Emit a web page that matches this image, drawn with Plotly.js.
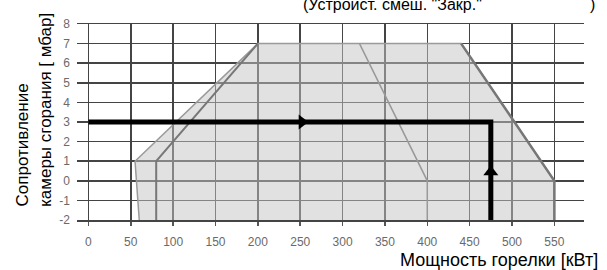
<!DOCTYPE html>
<html>
<head>
<meta charset="utf-8">
<script src="https://cdn.plot.ly/plotly-3.0.1.min.js"></script>
<style>html,body{margin:0;padding:0;background:#fff}#chart{width:607px;height:270px}</style>
</head>
<body>
<div id="chart"></div>
<script>
// Working field (outer boundary)
const outerX = [60, 55, 200, 440, 550, 550];
const outerY = [-2, 1, 7, 7, 0, -2];
// Inner boundary lines
const innerLeftX = [80, 80, 200];
const innerLeftY = [-2, 1, 7];
const innerRightX = [320, 400, 400];
const innerRightY = [7, 0, -2];
// Right outer edge (drawn darker)
const outerRightX = [440, 550, 550];
const outerRightY = [7, 0, -2];
// Operating point path
const opX = [0, 475, 475];
const opY = [3, 3, -2];
// Arrow heads along the path
const arrowRightX = [252];
const arrowRightY = [3];
const arrowUpX = [475];
const arrowUpY = [0.45];
// Ticks
const xTicks = [0, 50, 100, 150, 200, 250, 300, 350, 400, 450, 500, 550];
const yTicks = [-2, -1, 0, 1, 2, 3, 4, 5, 6, 7, 8];

const traces = [
  {x: outerX, y: outerY, type: 'scatter', mode: 'lines', fill: 'toself',
   fillcolor: 'rgba(195,195,195,0.5)', line: {color: '#9a9a9a', width: 1.5}, hoverinfo: 'skip'},
  {x: outerRightX, y: outerRightY, type: 'scatter', mode: 'lines',
   line: {color: '#777', width: 2.5}, hoverinfo: 'skip'},
  {x: innerLeftX, y: innerLeftY, type: 'scatter', mode: 'lines',
   line: {color: '#777', width: 2}, hoverinfo: 'skip'},
  {x: innerRightX, y: innerRightY, type: 'scatter', mode: 'lines',
   line: {color: '#999', width: 1.5}, hoverinfo: 'skip'},
  {x: opX, y: opY, type: 'scatter', mode: 'lines',
   line: {color: '#000', width: 5}, hoverinfo: 'skip'},
  {x: arrowRightX, y: arrowRightY, type: 'scatter', mode: 'markers',
   marker: {symbol: 'triangle-right', size: 13, color: '#000'}, hoverinfo: 'skip'},
  {x: arrowUpX, y: arrowUpY, type: 'scatter', mode: 'markers',
   marker: {symbol: 'triangle-up', size: 13, color: '#000'}, hoverinfo: 'skip'}
];

const layout = {
  width: 607, height: 270,
  margin: {l: 77, r: 23, t: 24, b: 50},
  paper_bgcolor: '#fff', plot_bgcolor: '#fff',
  showlegend: false,
  font: {family: 'Liberation Sans, Arial, sans-serif', color: '#000'},
  xaxis: {
    range: [-13.5, 585], tickvals: xTicks, ticktext: xTicks.map(String),
    showgrid: true, gridcolor: '#444', gridwidth: 1.5,
    zeroline: false, showline: true, mirror: true, linecolor: '#444', linewidth: 1.5,
    ticks: 'outside', ticklen: 4, tickwidth: 1.5, tickcolor: '#555',
    tickfont: {size: 12, color: '#6a6a6a'}, ticklabelstandoff: 6
  },
  yaxis: {
    range: [-2, 8], tickvals: yTicks, ticktext: yTicks.map(String),
    showgrid: true, gridcolor: '#444', gridwidth: 1.5,
    zeroline: false, showline: false, ticks: '',
    tickfont: {size: 12, color: '#6a6a6a'}, ticklabelstandoff: 6
  },
  annotations: [
    {text: '(Устройст. смеш. "Закр."', xref: 'paper', yref: 'paper',
     x: 0.442, y: 1.10, xanchor: 'left', yanchor: 'middle', showarrow: false,
     font: {size: 16, color: '#000'}},
    {text: ')', xref: 'paper', yref: 'paper',
     x: 1.0158, y: 1.10, xanchor: 'center', yanchor: 'middle', showarrow: false,
     font: {size: 16, color: '#000'}},
    {text: 'Мощность горелки [кВт]', xref: 'paper', yref: 'paper',
     x: 1.032, y: -0.204, xanchor: 'right', yanchor: 'middle', showarrow: false,
     font: {size: 18, color: '#000'}},
    {text: 'Сопротивление', xref: 'paper', yref: 'paper',
     x: (22 - 77) / 507, y: (220 - 209) / 196, xanchor: 'center', yanchor: 'bottom', showarrow: false,
     textangle: -90, font: {size: 17, color: '#000'}},
    {text: 'камеры сгорания [ мбар]', xref: 'paper', yref: 'paper',
     x: (45 - 77) / 507, y: (220 - 209) / 196, xanchor: 'center', yanchor: 'bottom', showarrow: false,
     textangle: -90, font: {size: 17, color: '#000'}}
  ]
};

Plotly.newPlot('chart', traces, layout, {staticPlot: true, displayModeBar: false});
</script>
</body>
</html>
